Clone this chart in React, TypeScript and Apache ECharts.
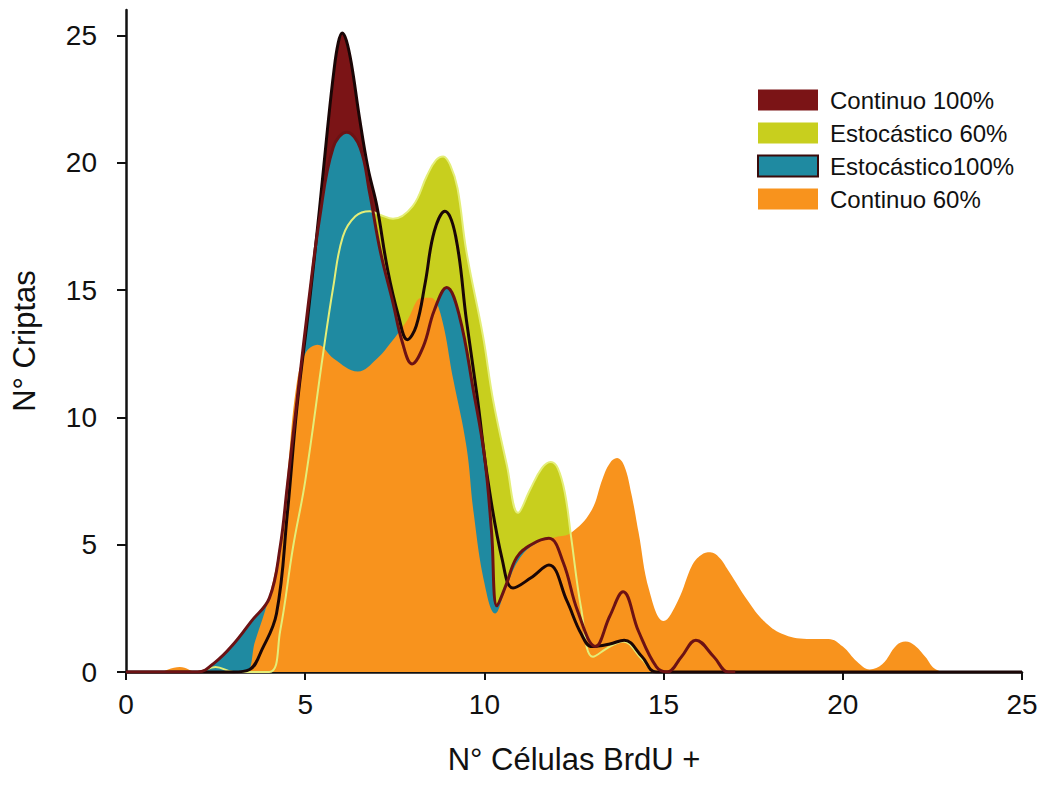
import React, { useEffect, useRef } from "react";
import * as echarts from "echarts";

// ---- Data (x = N° Células BrdU +, y = N° Criptas) ----
const seriesNames = ["Continuo 100%", "Estocástico 60%", "Estocástico100%", "Continuo 60%"];

const continuo100: [number, number][] = [
  [0, 0], [3.0, 0], [3.45, 0.1], [3.8, 0.9], [4.2, 2.3], [4.5, 6.2], [4.77, 10.4], [5.1, 14.3],
  [5.4, 18.2], [5.62, 21.3], [5.8, 23.6], [5.92, 24.7], [6.03, 25.1], [6.15, 24.8], [6.3, 23.8],
  [6.5, 21.9], [6.75, 19.8], [7.0, 18.3], [7.3, 15.8], [7.6, 14.0], [7.85, 13.05], [8.1, 13.6],
  [8.35, 15.3], [8.6, 17.3], [8.9, 18.1], [9.2, 17.1], [9.5, 13.8], [9.8, 10.8], [10.1, 7.5],
  [10.5, 4.4], [10.8, 3.3], [11.3, 3.7], [11.8, 4.2], [12.3, 2.8], [12.7, 1.5], [13.0, 1.0],
  [13.5, 1.1], [13.9, 1.25], [14.4, 0.6], [14.8, 0], [25, 0],
];

const estocastico60: [number, number][] = [
  [0, 0], [2.0, 0], [2.5, 0.2], [3.0, 0], [4.0, 0], [4.3, 1.6], [4.66, 4.9], [5.0, 7.5],
  [5.5, 12.5], [5.78, 15.1], [6.05, 17.1], [6.4, 17.9], [6.8, 18.1], [7.1, 17.95], [7.45, 17.8],
  [8.0, 18.3], [8.4, 19.5], [8.65, 20.1], [8.85, 20.25], [9.05, 19.9], [9.25, 19.0], [9.5, 16.5],
  [9.96, 13.2], [10.24, 10.7], [10.63, 8.1], [10.94, 6.25], [11.27, 7.15], [11.6, 8.0],
  [11.85, 8.25], [12.05, 8.0], [12.25, 7.0], [12.42, 5.3], [12.7, 2.5], [13.03, 0.6],
  [13.5, 1.0], [13.87, 1.2], [14.4, 0.5], [14.8, 0], [18, 0],
];

const estocastico100: [number, number][] = [
  [0, 0], [2.0, 0], [2.5, 0.4], [3.0, 1.1], [3.5, 2.0], [4.0, 2.9], [4.3, 4.9], [4.5, 7.3],
  [4.8, 11.0], [5.1, 14.6], [5.4, 17.8], [5.78, 20.6], [6.16, 21.2], [6.53, 20.6], [6.8, 18.8],
  [7.1, 16.5], [7.45, 14.5], [7.7, 13.0], [7.98, 12.1], [8.3, 12.8], [8.6, 14.2], [8.95, 15.1],
  [9.3, 14.0], [9.7, 11.0], [10.0, 8.5], [10.2, 5.5], [10.35, 2.6], [10.6, 3.4], [10.9, 4.5],
  [11.3, 5.0], [11.8, 5.25], [12.2, 4.3], [12.6, 2.4], [13.1, 1.0], [13.5, 2.2], [13.87, 3.15],
  [14.3, 1.6], [14.8, 0.2], [15.1, 0], [15.5, 0.6], [15.9, 1.25], [16.4, 0.6], [16.8, 0], [17, 0],
];

const continuo60: [number, number][] = [
  [1.0, 0], [1.5, 0.2], [2.0, 0], [3.3, 0], [3.6, 1.2], [4.0, 3.0], [4.3, 5.1], [4.5, 7.7],
  [4.75, 11.2], [5.0, 12.5], [5.35, 12.85], [5.8, 12.3], [6.47, 11.8], [7.0, 12.3], [7.37, 12.9],
  [7.84, 13.8], [8.26, 14.7], [8.5, 14.7], [8.77, 14.1], [9.13, 11.5], [9.5, 8.85], [9.7, 6.25],
  [10.0, 3.5], [10.3, 2.3], [10.6, 3.3], [11.0, 4.5], [11.5, 5.1], [12.0, 5.3], [12.4, 5.45],
  [12.97, 6.3], [13.3, 7.6], [13.5, 8.2], [13.7, 8.4], [13.9, 8.1], [14.1, 7.0], [14.3, 5.5],
  [14.6, 3.2], [15.0, 2.0], [15.4, 2.8], [15.8, 4.2], [16.05, 4.6], [16.3, 4.7], [16.55, 4.5],
  [16.8, 4.0], [17.35, 2.8], [17.8, 2.0], [18.3, 1.5], [19.0, 1.3], [19.6, 1.3], [20.0, 1.0],
  [20.4, 0.4], [20.75, 0.1], [21.1, 0.3], [21.5, 1.05], [21.75, 1.2], [22.0, 1.05], [22.3, 0.6],
  [22.6, 0.1], [23, 0], [24, 0],
];

const xTicks = [0, 5, 10, 15, 20, 25];
const yTicks = [0, 5, 10, 15, 20, 25];

const FONT = "'Liberation Sans', Arial, sans-serif";

export default function App() {
  const ref = useRef<HTMLDivElement>(null);

  useEffect(() => {
    document.body.style.margin = "0";
    if (!ref.current) return;
    const chart = echarts.init(ref.current, null, { renderer: "svg" });

    const fill = (name: string, data: [number, number][], color: string) => ({
      name,
      type: "line",
      data,
      smooth: 0.4,
      symbol: "none",
      lineStyle: { width: 0, opacity: 0 },
      itemStyle: { color },
      areaStyle: { color, opacity: 1 },
      emphasis: { disabled: true },
    });
    const outline = (id: string, data: [number, number][], color: string, width: number) => ({
      id,
      name: id,
      type: "line",
      data,
      smooth: 0.4,
      symbol: "none",
      lineStyle: { width, color },
      itemStyle: { color },
      emphasis: { disabled: true },
    });

    chart.setOption({
      animation: false,
      backgroundColor: "#ffffff",
      textStyle: { fontFamily: FONT },
      grid: { left: 126, right: 25, top: 10, bottom: 118 },
      legend: {
        orient: "vertical",
        left: 752,
        top: 83,
        icon: "rect",
        itemWidth: 60,
        itemHeight: 21,
        itemGap: 9,
        textStyle: { fontSize: 24, color: "#111", fontFamily: FONT, padding: [0, 0, 0, 7] },
        itemStyle: { borderWidth: 0 },
        data: [
          { name: seriesNames[0] },
          { name: seriesNames[1] },
          { name: seriesNames[2], itemStyle: { borderColor: "#3a0b0b", borderWidth: 2 } },
          { name: seriesNames[3] },
        ],
      },
      xAxis: {
        type: "value",
        min: 0,
        max: 25,
        interval: 5,
        name: "N° Células BrdU +",
        nameLocation: "middle",
        nameGap: 72,
        nameTextStyle: { fontSize: 31, color: "#111", fontFamily: FONT },
        axisLine: { show: true, onZero: false, lineStyle: { color: "#111", width: 2.5 } },
        axisTick: { show: true, inside: false, length: 8, lineStyle: { color: "#111", width: 2 }, customValues: xTicks },
        axisLabel: { fontSize: 28, color: "#111", margin: 18, fontFamily: FONT, customValues: xTicks },
        splitLine: { show: false },
      },
      yAxis: {
        type: "value",
        min: 0,
        max: 26,
        name: "N° Criptas",
        nameLocation: "middle",
        nameGap: 86,
        nameTextStyle: { fontSize: 31, color: "#111", fontFamily: FONT },
        axisLine: { show: true, onZero: false, lineStyle: { color: "#111", width: 2.5 } },
        axisTick: { show: true, inside: false, length: 9, lineStyle: { color: "#111", width: 2 }, customValues: yTicks },
        axisLabel: { fontSize: 28, color: "#111", margin: 29, fontFamily: FONT, customValues: yTicks },
        splitLine: { show: false },
      },
      series: [
        fill(seriesNames[0], continuo100, "#7b1416"),
        fill(seriesNames[1], estocastico60, "#c8cf1e"),
        fill(seriesNames[2], estocastico100, "#1f8aa1"),
        fill(seriesNames[3], continuo60, "#f8931d"),
        outline("outline-est60", estocastico60, "#e4ee78", 2),
        outline("outline-cont100", continuo100, "#1a0606", 3),
        outline("outline-est100", estocastico100, "#6c1214", 3),
      ],
    });

    return () => {
      chart.dispose();
    };
  }, []);

  return <div ref={ref} style={{ width: 1047, height: 790 }} />;
}
